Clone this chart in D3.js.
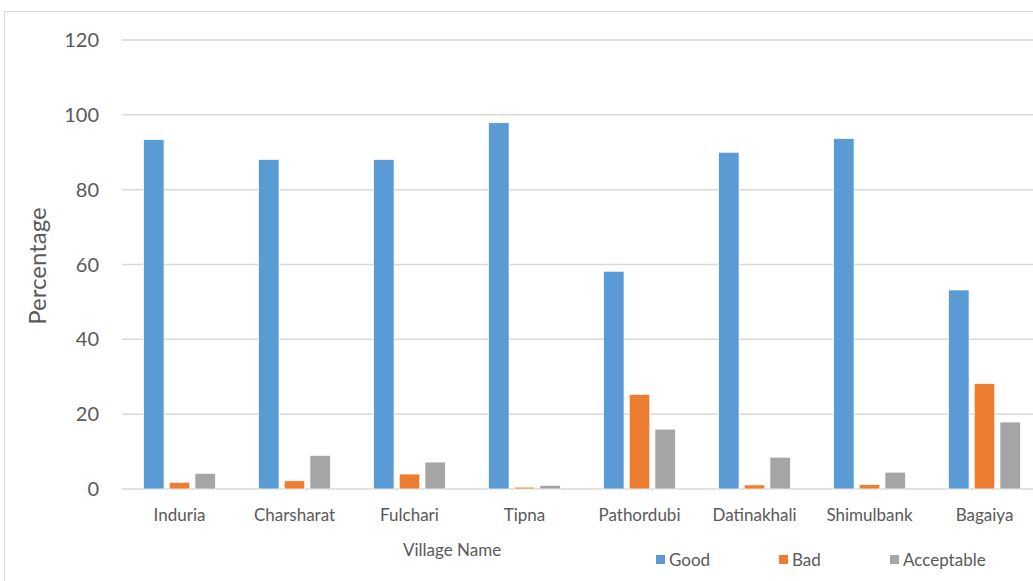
<!DOCTYPE html>
<html>
<head>
<meta charset="utf-8">
<script src="https://cdn.jsdelivr.net/npm/d3@7"></script>
<style>
  body { margin: 0; background: #fff; }
  svg { display: block; font-family: Lato, "Open Sans", sans-serif; }
</style>
</head>
<body>
<div class="chart"></div>
<script>
'use strict'

const villages = ['Induria', 'Charsharat', 'Fulchari', 'Tipna', 'Pathordubi', 'Datinakhali', 'Shimulbank', 'Bagaiya']
const seriesNames = ['Good', 'Bad', 'Acceptable']
const good = [93.4, 88.1, 88.1, 97.9, 58.2, 90.0, 93.7, 53.2]
const bad = [1.8, 2.2, 4.0, 0.5, 25.3, 1.1, 1.2, 28.2]
const acceptable = [4.2, 9.0, 7.2, 1.0, 16.0, 8.5, 4.5, 17.9]
const yTicks = [0, 20, 40, 60, 80, 100, 120]
const colors = ['#5b9bd5', '#ed7d31', '#a5a5a5']

const width = 1033
const height = 581

const rows = villages.map((v, i) => ({ village: v, values: [good[i], bad[i], acceptable[i]] }))

const svg = d3.select('.chart').append('svg')
    .attr('width', width)
    .attr('height', height)

// chart area border
svg.append('rect')
    .attr('x', 4.5).attr('y', 11.5)
    .attr('width', width + 10).attr('height', height)
    .style('fill', 'none').style('stroke', '#d9d9d9')

const x0 = d3.scaleBand()
    .domain(villages)
    .range([122, 1042])

const x1 = d3.scaleBand()
    .domain(seriesNames)
    .range([21.5, 93.5])
    .paddingInner(0.2)

const y = d3.scaleLinear()
    .domain([0, 120])
    .range([489, 40])

// gridlines
svg.selectAll('.grid')
    .data(yTicks)
  .enter().append('line')
    .attr('class', 'grid')
    .attr('x1', 122).attr('x2', width)
    .attr('y1', d => y(d)).attr('y2', d => y(d))
    .style('stroke', '#d9d9d9').style('stroke-width', 1.5)

// y tick labels
svg.selectAll('.ytick')
    .data(yTicks)
  .enter().append('text')
    .attr('class', 'ytick')
    .attr('x', 99)
    .attr('y', d => y(d))
    .attr('dy', '0.35em')
    .style('text-anchor', 'end')
    .style('font-size', '20px')
    .style('fill', '#595959')
    .text(d => d)

// bars
const groups = svg.selectAll('.group')
    .data(rows)
  .enter().append('g')
    .attr('class', 'group')
    .attr('transform', d => 'translate(' + x0(d.village) + ',0)')

groups.selectAll('rect')
    .data(d => d.values.map((v, i) => ({ key: seriesNames[i], value: v, i })))
  .enter().append('rect')
    .attr('x', d => x1(d.key))
    .attr('width', x1.bandwidth())
    .attr('y', d => y(d.value))
    .attr('height', d => y(0) - y(d.value))
    .style('fill', d => colors[d.i])
    .style('stroke', '#fff').style('stroke-width', 0.75)

// category labels
svg.selectAll('.xtick')
    .data(villages)
  .enter().append('text')
    .attr('class', 'xtick')
    .attr('x', d => x0(d) + x0.bandwidth() / 2)
    .attr('y', 521)
    .style('text-anchor', 'middle')
    .style('font-size', '17px')
    .style('fill', '#595959')
    .text(d => d)

// axis titles
svg.append('text')
    .attr('transform', 'translate(46,266) rotate(-90)')
    .style('text-anchor', 'middle')
    .style('font-size', '24px')
    .style('fill', '#595959')
    .text('Percentage')

svg.append('text')
    .attr('x', 452).attr('y', 556)
    .style('text-anchor', 'middle')
    .style('font-size', '17px')
    .style('fill', '#595959')
    .text('Village Name')

// legend
const legendX = [656, 779, 890]
const legend = svg.selectAll('.legend')
    .data(seriesNames)
  .enter().append('g')
    .attr('class', 'legend')
    .attr('transform', (d, i) => 'translate(' + legendX[i] + ',555)')

legend.append('rect')
    .attr('width', 9).attr('height', 9)
    .style('fill', (d, i) => colors[i])

legend.append('text')
    .attr('x', 13).attr('y', 11)
    .style('font-size', '17px')
    .style('fill', '#595959')
    .text(d => d)
</script>
</body>
</html>
